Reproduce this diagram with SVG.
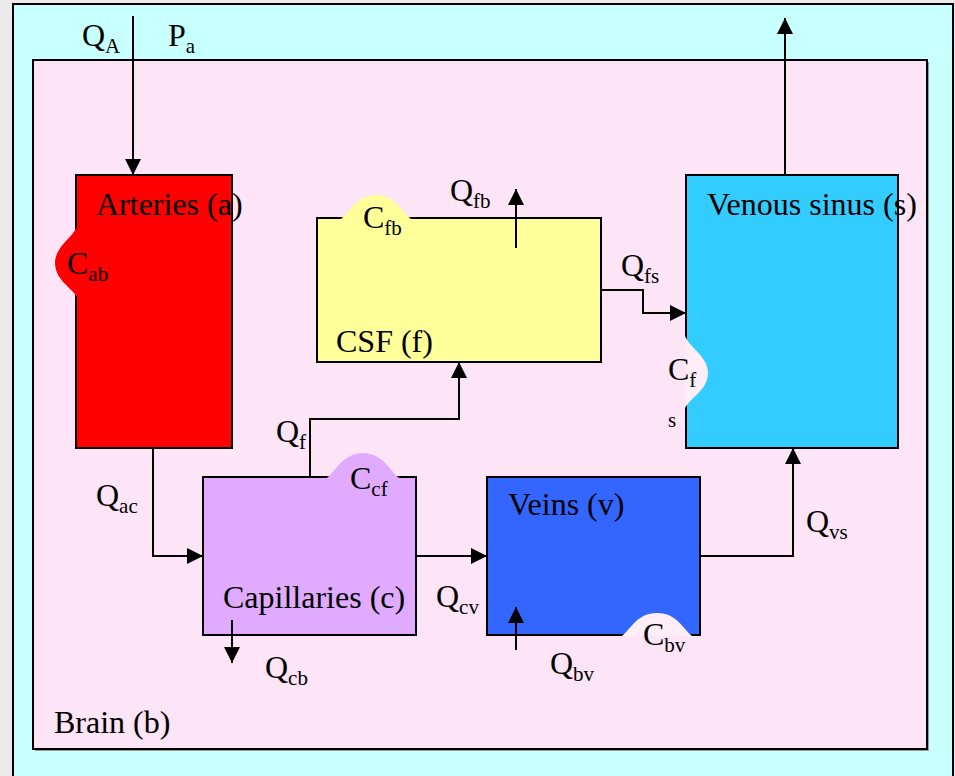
<svg xmlns="http://www.w3.org/2000/svg" width="955" height="776" viewBox="0 0 955 776">
<style>
.t{font-family:"Liberation Serif","Times New Roman",serif;font-size:32px;fill:#000}
.s{font-size:21px}
.box{stroke:#000;stroke-width:2}
.ln{fill:none;stroke:#000;stroke-width:2}
</style>
<defs>
<marker id="ah" viewBox="0 0 16 16" refX="16" refY="8" markerWidth="16" markerHeight="16" markerUnits="userSpaceOnUse" orient="auto">
<path d="M0,0 L16,8 L0,16 Z" fill="#000"/>
</marker>
</defs>
<rect x="0" y="0" width="955" height="776" fill="#EBEBEB"/>
<rect id="outer" x="13" y="4" width="940" height="780" fill="#C8FFFF" stroke="#000" stroke-width="2"/>
<g id="brain">
<rect x="35" y="62" width="894" height="689" fill="#999"/>
<rect x="33" y="60" width="894" height="689" fill="#FDE4F6" class="box"/>
<text class="t" x="54" y="733">Brain (b)</text>
</g>
<g id="arteries">
<rect x="76" y="175" width="156" height="273" fill="#FF0000" class="box"/>
<path d="M77,227 C72,238 56,246 55,262 C55,280 70,286 77,297 Z" fill="#FF0000"/>
<text class="t" x="96" y="215">Arteries (a)</text>
<text class="t" x="67" y="274">C<tspan class="s" dy="7">ab</tspan></text>
</g>
<g id="csf">
<rect x="317" y="218" width="284" height="144" fill="#FFFF99" class="box"/>
<path d="M341,219 C350,212 356,196 376,195 C396,196 402,212 411,219 Z" fill="#FFFF99"/>
<text class="t" x="336" y="352">CSF (f)</text>
<text class="t" x="363" y="228">C<tspan class="s" dy="7">fb</tspan></text>
</g>
<g id="venous">
<rect x="686" y="175" width="212" height="273" fill="#33CCFF" class="box"/>
<path d="M685,336 C690,348 707,356 708,372 C708,390 692,396 685,408 Z" fill="#FFEEF8"/>
<text class="t" x="707" y="215">Venous sinus (s)</text>
<text class="t" x="668" y="380">C<tspan class="s" dy="7">f</tspan></text>
<text class="t s" x="668" y="427">s</text>
</g>
<g id="capillaries">
<rect x="203" y="477" width="213" height="158" fill="#E0AAFF" class="box"/>
<path d="M327,478 C336,471 342,454 363,453 C384,454 390,471 399,478 Z" fill="#E0AAFF"/>
<text class="t" x="223" y="608">Capillaries (c)</text>
<text class="t" x="350" y="489">C<tspan class="s" dy="7">cf</tspan></text>
</g>
<g id="veins">
<rect x="487" y="477" width="213" height="158" fill="#3366FF" class="box"/>
<path d="M622,636 C631,629 637,613 657,613 C677,613 683,629 692,636 Z" fill="#FFEEF8"/>
<text class="t" x="508" y="515">Veins (v)</text>
<text class="t" x="643" y="645">C<tspan class="s" dy="7">bv</tspan></text>
</g>
<g id="connectors">
<path class="ln" d="M133,16 V175" marker-end="url(#ah)"/>
<path class="ln" d="M785,175 V18" marker-end="url(#ah)"/>
<path class="ln" d="M516,248 V189" marker-end="url(#ah)"/>
<path class="ln" d="M601,290 H643 V313 H686" marker-end="url(#ah)"/>
<path class="ln" d="M310,477 V419 H459 V362" marker-end="url(#ah)"/>
<path class="ln" d="M153,448 V556 H203" marker-end="url(#ah)"/>
<path class="ln" d="M232,620 V663" marker-end="url(#ah)"/>
<path class="ln" d="M416,556 H487" marker-end="url(#ah)"/>
<path class="ln" d="M516,650 V607" marker-end="url(#ah)"/>
<path class="ln" d="M700,556 H793 V448" marker-end="url(#ah)"/>
</g>
<g id="labels">
<text class="t" x="82" y="46">Q<tspan class="s" dy="7">A</tspan></text>
<text class="t" x="168" y="46">P<tspan class="s" dy="7">a</tspan></text>
<text class="t" x="450" y="201">Q<tspan class="s" dy="7">fb</tspan></text>
<text class="t" x="621" y="276">Q<tspan class="s" dy="7">fs</tspan></text>
<text class="t" x="276" y="442">Q<tspan class="s" dy="7">f</tspan></text>
<text class="t" x="96" y="506">Q<tspan class="s" dy="7">ac</tspan></text>
<text class="t" x="265" y="678">Q<tspan class="s" dy="7">cb</tspan></text>
<text class="t" x="436" y="607">Q<tspan class="s" dy="7">cv</tspan></text>
<text class="t" x="550" y="674">Q<tspan class="s" dy="7">bv</tspan></text>
<text class="t" x="806" y="532">Q<tspan class="s" dy="7">vs</tspan></text>
</g>
</svg>
